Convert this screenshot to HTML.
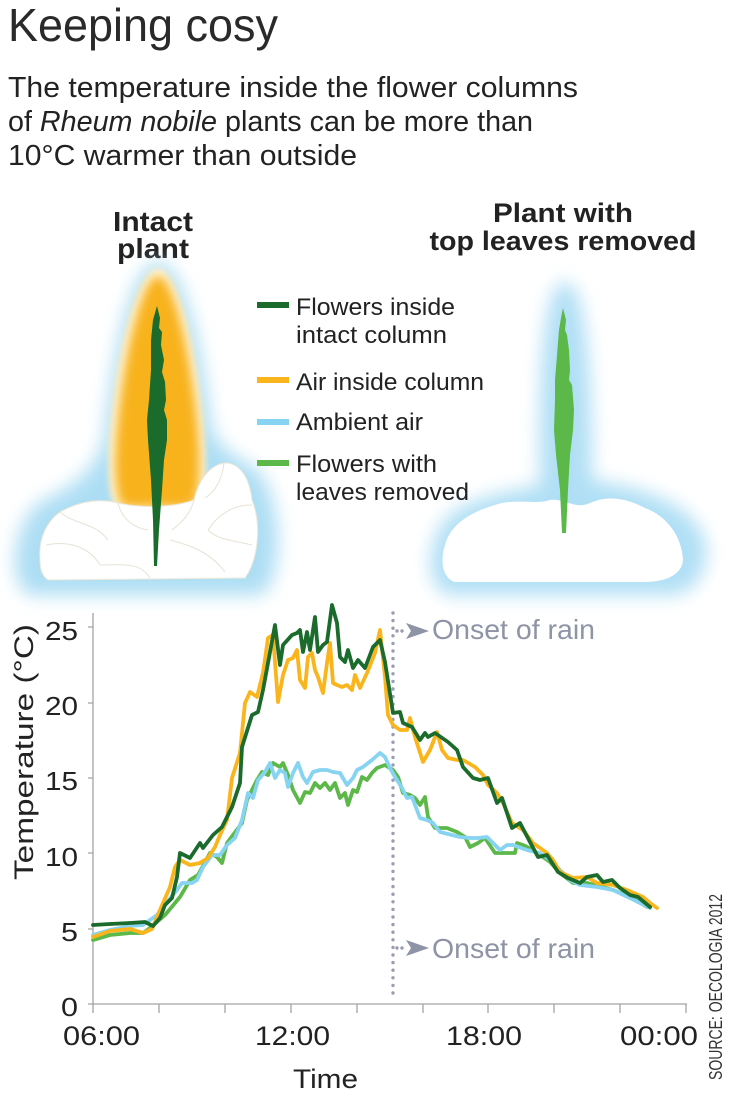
<!DOCTYPE html>
<html><head><meta charset="utf-8"><style>
html,body{margin:0;padding:0;background:#fff;}
svg{display:block;font-family:"Liberation Sans",sans-serif;}
</style></head><body>
<svg width="732" height="1098" viewBox="0 0 732 1098" xmlns="http://www.w3.org/2000/svg">
<defs>
<filter id="b10" x="-50%" y="-50%" width="200%" height="200%"><feGaussianBlur stdDeviation="9"/></filter>
<filter id="b5" x="-50%" y="-50%" width="200%" height="200%"><feGaussianBlur stdDeviation="5"/></filter>
<filter id="b3" x="-50%" y="-50%" width="200%" height="200%"><feGaussianBlur stdDeviation="3"/></filter>
</defs>
<rect width="732" height="1098" fill="#fff"/>

<text x="8" y="41" font-size="46" fill="#2a2a2a" textLength="270" lengthAdjust="spacingAndGlyphs">Keeping cosy</text>
<text x="8" y="97" font-size="29" fill="#222" textLength="570" lengthAdjust="spacingAndGlyphs">The temperature inside the flower columns</text>
<text x="8" y="131" font-size="29" fill="#222" textLength="525" lengthAdjust="spacingAndGlyphs">of <tspan font-style="italic">Rheum nobile</tspan> plants can be more than</text>
<text x="8" y="165" font-size="29" fill="#222" textLength="349" lengthAdjust="spacingAndGlyphs">10°C warmer than outside</text>

<text x="153" y="231" font-size="28" font-weight="bold" fill="#222" text-anchor="middle" textLength="80" lengthAdjust="spacingAndGlyphs">Intact</text>
<text x="153" y="258" font-size="28" font-weight="bold" fill="#222" text-anchor="middle" textLength="72" lengthAdjust="spacingAndGlyphs">plant</text>
<text x="563" y="222" font-size="27" font-weight="bold" fill="#222" text-anchor="middle" textLength="140" lengthAdjust="spacingAndGlyphs">Plant with</text>
<text x="563" y="250" font-size="27" font-weight="bold" fill="#222" text-anchor="middle" textLength="267" lengthAdjust="spacingAndGlyphs">top leaves removed</text>

<!-- left plant -->
<path d="M158,262 C180,262 200,330 210,420 C216,450 235,455 258,470 C285,505 282,580 262,595 L28,595 C8,580 12,530 36,505 C62,490 92,480 104,440 C115,330 136,262 158,262 Z" fill="#a4daf3" opacity="0.9" filter="url(#b10)"/>
<path d="M158,268 C176,268 196,340 203,420 C208,470 206,505 196,512 L120,512 C108,505 106,470 111,420 C118,340 140,268 158,268 Z" fill="#fff4d8" filter="url(#b3)"/>
<path d="M158,276 C172,276 188,340 196,410 C202,460 200,500 192,507 L124,507 C114,500 113,460 119,410 C127,340 144,276 158,276 Z" fill="#f8b21c" filter="url(#b5)"/>
<path d="M40,560 C38,540 46,522 60,512 C78,502 98,498 118,503 C140,508 172,508 194,500 C198,482 208,466 224,463 C242,462 250,482 252,500 C262,525 258,560 245,578 L48,580 C41,575 40,568 40,560 Z" fill="#fff" stroke="#ebe7da" stroke-width="1"/>
<g fill="none" stroke="#e6e2d4" stroke-width="1">
<path d="M60,512 C75,525 95,522 108,540 M46,545 C70,540 90,548 100,565 M118,503 C122,520 135,528 148,530 M194,500 C190,515 182,522 172,530 M252,505 C232,505 218,515 208,530 M170,540 C190,545 210,552 225,572 M100,565 C125,565 140,562 150,578 M208,530 C218,540 232,540 252,545 M224,463 C222,480 215,492 205,498"/>
</g>
<path d="M157,306 L160,318 L159,328 L162,332 L161,345 L164,360 L162,372 L165,382 L166,400 L164,410 L167,420 L167,440 L164,460 L162,490 L159,530 L157,566 L154,566 L153,520 L151,480 L148,440 L147,420 L149,400 L150,385 L151,370 L151,340 L153,320 Z" fill="#1b6b2c"/>

<!-- right plant -->
<path d="M565,282 C585,282 592,360 592,480 C620,485 690,495 705,540 C712,575 690,595 670,595 L450,595 C425,590 425,545 445,520 C470,495 520,490 540,485 C538,360 545,282 565,282 Z" fill="#a8dcf4" opacity="0.9" filter="url(#b10)"/>
<path d="M445,545 C450,525 470,512 495,505 C515,498 535,505 550,500 C565,498 575,510 590,503 C610,494 630,500 645,508 C665,515 682,535 683,560 C682,575 665,582 645,582 L455,582 C442,578 440,560 445,545 Z" fill="#fff"/>
<path d="M563,308 L566,320 L565,330 L567,335 L569,350 L570,370 L569,380 L572,385 L574,410 L573,430 L570,455 L568,490 L566,533 L562,533 L560,490 L556,455 L554,430 L555,400 L555,380 L557,355 L559,330 L561,318 Z" fill="#5cb849"/>

<!-- legend -->
<g stroke-width="6">
<line x1="257" y1="305" x2="289" y2="305" stroke="#1b6b2c"/>
<line x1="257" y1="380" x2="289" y2="380" stroke="#fbb51c"/>
<line x1="257" y1="422" x2="289" y2="422" stroke="#87d3f2"/>
<line x1="257" y1="463" x2="289" y2="463" stroke="#5cb849"/>
</g>
<g font-size="24" fill="#222">
<text x="296" y="315" textLength="159" lengthAdjust="spacingAndGlyphs">Flowers inside</text>
<text x="296" y="343" textLength="151" lengthAdjust="spacingAndGlyphs">intact column</text>
<text x="296" y="390" textLength="188" lengthAdjust="spacingAndGlyphs">Air inside column</text>
<text x="296" y="430" textLength="127" lengthAdjust="spacingAndGlyphs">Ambient air</text>
<text x="296" y="472" textLength="141" lengthAdjust="spacingAndGlyphs">Flowers with</text>
<text x="296" y="500" textLength="173" lengthAdjust="spacingAndGlyphs">leaves removed</text>
</g>

<!-- axes -->
<g stroke="#a3a3a3" stroke-width="1.3" fill="none">
<line x1="93" y1="613" x2="93" y2="1004"/>
<line x1="93" y1="1004" x2="687" y2="1004"/>
<path d="M88,627H93M88,703H93M88,778H93M88,853H93M88,929H93M88,1004H93"/>
<path d="M93,1004V1013M159,1004V1013M225,1004V1013M291,1004V1013M357,1004V1013M423,1004V1013M488,1004V1013M554,1004V1013M620,1004V1013M686,1004V1013"/>
</g>
<g font-size="26" fill="#222" text-anchor="end">
<text x="78" y="640" textLength="33" lengthAdjust="spacingAndGlyphs">25</text>
<text x="78" y="715" textLength="33" lengthAdjust="spacingAndGlyphs">20</text>
<text x="78" y="790" textLength="33" lengthAdjust="spacingAndGlyphs">15</text>
<text x="78" y="866" textLength="33" lengthAdjust="spacingAndGlyphs">10</text>
<text x="78" y="941" textLength="17" lengthAdjust="spacingAndGlyphs">5</text>
<text x="78" y="1016" textLength="17" lengthAdjust="spacingAndGlyphs">0</text>
</g>
<g font-size="27" fill="#222">
<text x="63" y="1045" textLength="77" lengthAdjust="spacingAndGlyphs">06:00</text>
<text x="255" y="1045" textLength="75" lengthAdjust="spacingAndGlyphs">12:00</text>
<text x="446" y="1045" textLength="76" lengthAdjust="spacingAndGlyphs">18:00</text>
<text x="620" y="1045" textLength="78" lengthAdjust="spacingAndGlyphs">00:00</text>
<text x="293" y="1088" textLength="65" lengthAdjust="spacingAndGlyphs">Time</text>
</g>
<text transform="translate(33,880) rotate(-90)" font-size="27" fill="#222" textLength="256" lengthAdjust="spacingAndGlyphs">Temperature (°C)</text>
<text transform="translate(722,1080) rotate(-90)" font-size="18" fill="#333" textLength="186" lengthAdjust="spacingAndGlyphs">SOURCE: OECOLOGIA 2012</text>

<!-- rain -->
<g stroke="#9a9db0" stroke-width="3.4" stroke-linecap="round" fill="none">
<line x1="393" y1="613" x2="393" y2="1000" stroke-dasharray="0 7.6"/>
<line x1="397" y1="631" x2="407" y2="631" stroke-dasharray="0 5"/>
<line x1="397" y1="948" x2="407" y2="948" stroke-dasharray="0 5"/>
</g>
<path d="M406,623 L429,631 L406,639 L411,631 Z" fill="#8e93a6"/>
<path d="M406,940 L429,948 L406,956 L411,948 Z" fill="#8e93a6"/>
<text x="432" y="639" font-size="28" fill="#8e93a6" textLength="163" lengthAdjust="spacingAndGlyphs">Onset of rain</text>
<text x="432" y="958" font-size="28" fill="#8e93a6" textLength="163" lengthAdjust="spacingAndGlyphs">Onset of rain</text>

<!-- series -->
<g fill="none" stroke-width="3.8" stroke-linejoin="round" stroke-linecap="round">
<polyline stroke="#5cb849" points="93,940 110,935 130,933 143,933 150,928 165,915 180,897 190,880 198,875 210,853 217,857 222,863 227,843 233,835 242,823 247,800 252,790 257,780 262,772 268,775 273,763 280,767 283,763 288,775 293,790 300,803 305,792 310,793 315,783 320,788 325,783 330,790 335,783 340,798 345,793 348,805 353,790 357,792 362,777 367,780 372,773 377,768 385,765 393,770 398,777 403,793 410,795 415,798 420,805 425,797 428,817 435,828 447,828 457,832 465,837 470,847 478,843 485,838 495,853 507,853 515,853 517,843 523,845 533,850 550,862 560,873 573,883 587,883 613,890 630,897 647,907"/>
<polyline stroke="#87d3f2" points="93,935 110,930 130,926 143,925 150,920 157,915 167,902 177,890 182,883 192,883 197,880 203,867 212,855 220,855 227,845 235,838 242,820 248,793 253,798 258,780 265,772 270,763 275,778 280,770 285,773 288,787 293,773 298,763 303,777 307,783 313,772 320,770 327,770 333,772 340,773 347,785 353,778 357,770 363,767 372,760 380,753 385,757 390,768 395,777 402,788 407,798 412,797 420,818 427,820 433,823 440,832 460,837 470,838 478,838 487,837 493,843 500,850 507,845 513,845 527,850 540,853 550,860 560,870 570,880 580,885 597,887 613,890 630,898 650,908"/>
<polyline stroke="#fbb51c" points="93,937 110,931 130,929 143,933 152,929 157,917 163,903 170,887 175,867 180,860 190,865 200,863 208,858 215,847 220,835 227,820 232,778 240,753 245,703 250,692 257,697 263,673 268,638 273,635 278,702 283,675 288,660 293,658 297,650 300,680 305,688 308,657 312,653 315,670 318,677 323,693 327,663 330,643 333,683 337,685 342,687 347,685 352,690 355,675 360,688 367,673 375,653 380,630 385,677 388,715 393,725 400,730 407,730 410,718 415,737 423,762 430,750 437,732 442,750 448,758 457,760 463,760 475,767 483,775 488,785 497,793 503,803 512,823 523,830 533,843 547,853 553,860 560,872 573,878 587,877 597,883 613,885 627,890 643,897 650,903 657,908"/>
<polyline stroke="#1b6b2c" points="93,925 110,924 130,923 145,922 153,926 160,918 165,905 172,898 177,877 180,853 190,858 200,843 203,848 213,835 222,827 232,807 240,783 242,747 252,715 258,712 263,690 268,663 275,625 280,665 283,645 292,635 297,633 300,630 303,652 307,632 310,650 315,617 318,652 323,645 327,642 332,605 337,623 340,657 345,662 348,650 353,668 358,660 365,668 373,647 380,640 385,662 393,713 400,712 403,723 412,727 420,740 425,733 428,737 435,733 448,742 457,750 463,767 473,778 480,780 488,778 497,803 502,798 512,828 520,823 530,842 538,857 547,855 558,872 568,878 580,883 587,877 597,875 603,882 612,880 620,888 630,895 638,897 650,907"/>
</g>
</svg>
</body></html>
